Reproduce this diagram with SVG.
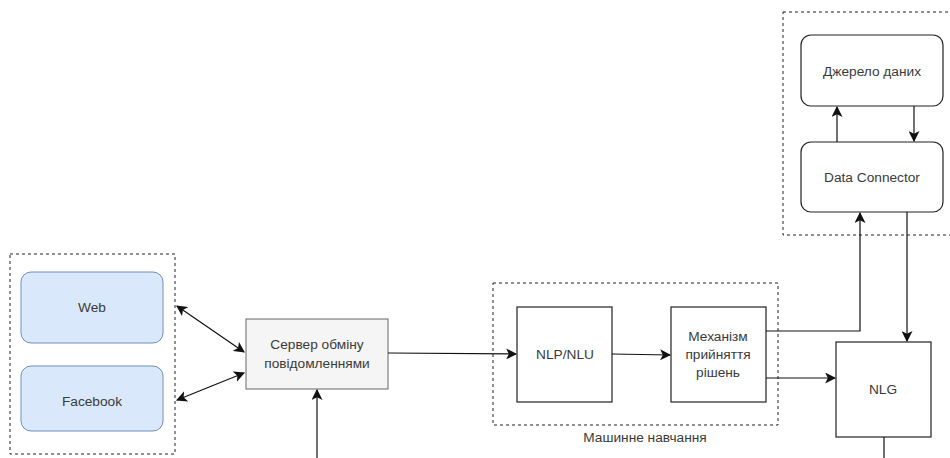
<svg xmlns="http://www.w3.org/2000/svg" width="950" height="458" viewBox="0 0 950 458">
<style>
text{font-family:"Liberation Sans",Arial,sans-serif;font-size:13.7px;fill:#3a3a3a;text-anchor:middle;dominant-baseline:central}
.grp{fill:none;stroke:#222;stroke-width:1;stroke-dasharray:3 3}
.blue{fill:#dae8fc;stroke:#6c8ebf;stroke-width:1}
.box{fill:#fff;stroke:#222;stroke-width:1.2}
.gray{fill:#f5f5f5;stroke:#666;stroke-width:1}
.c{fill:none;stroke:#111;stroke-width:1.2}
</style>
<defs>
<marker id="a" viewBox="0 0 10 10" refX="9" refY="5" markerWidth="11" markerHeight="11" markerUnits="userSpaceOnUse" orient="auto-start-reverse">
<path d="M0,0 L10,5 L0,10 L2.5,5 Z" fill="#111"/>
</marker>
</defs>
<rect width="950" height="458" fill="#fff"/>
<g id="channels">
<rect class="grp" x="10" y="254" width="165" height="200"/>
</g>
<g id="web"><rect class="blue" x="21" y="272" width="142" height="71" rx="10"/><text x="92" y="307.5">Web</text></g>
<g id="facebook"><rect class="blue" x="21" y="366" width="142" height="65" rx="10"/><text x="92" y="401">Facebook</text></g>
<g id="server"><rect class="gray" x="246" y="319" width="142" height="70"/><text x="317" y="344">Сервер обміну</text><text x="317" y="363">повідомленнями</text></g>
<g id="ml"><rect class="grp" x="493" y="283" width="285" height="142"/><text x="645" y="437">Машинне навчання</text></g>
<g id="nlp"><rect class="box" x="517" y="307" width="95" height="95"/><text x="565" y="354">NLP/NLU</text></g>
<g id="decision"><rect class="box" x="671" y="307" width="95" height="95"/><text x="718" y="336">Механізм</text><text x="718" y="354">прийняття</text><text x="718" y="372">рішень</text></g>
<g id="nlg"><rect class="box" x="836" y="342" width="95" height="95"/><text x="883" y="389">NLG</text></g>
<g id="data"><rect class="grp" x="783" y="12" width="180" height="223"/></g>
<g id="source"><rect class="box" x="801" y="35" width="142" height="71" rx="10"/><text x="872" y="71">Джерело даних</text></g>
<g id="connector"><rect class="box" x="801" y="142" width="142" height="70" rx="10"/><text x="872" y="177">Data Connector</text></g>
<g id="connectors">
<line class="c" x1="177" y1="306" x2="244" y2="352" marker-start="url(#a)" marker-end="url(#a)"/>
<line class="c" x1="177" y1="400" x2="244" y2="373" marker-start="url(#a)" marker-end="url(#a)"/>
<line class="c" x1="317" y1="458" x2="317" y2="390" marker-end="url(#a)"/>
<line class="c" x1="388" y1="353" x2="516" y2="354" marker-end="url(#a)"/>
<line class="c" x1="612" y1="354" x2="670" y2="355" marker-end="url(#a)"/>
<polyline class="c" points="766,331 860,331 860,213" marker-end="url(#a)"/>
<line class="c" x1="766" y1="378" x2="835" y2="378" marker-end="url(#a)"/>
<line class="c" x1="907" y1="212" x2="907" y2="341" marker-end="url(#a)"/>
<line class="c" x1="884" y1="437" x2="884" y2="458"/>
<line class="c" x1="837" y1="142" x2="837" y2="107" marker-end="url(#a)"/>
<line class="c" x1="914" y1="106" x2="914" y2="141" marker-end="url(#a)"/>
</g>
</svg>
